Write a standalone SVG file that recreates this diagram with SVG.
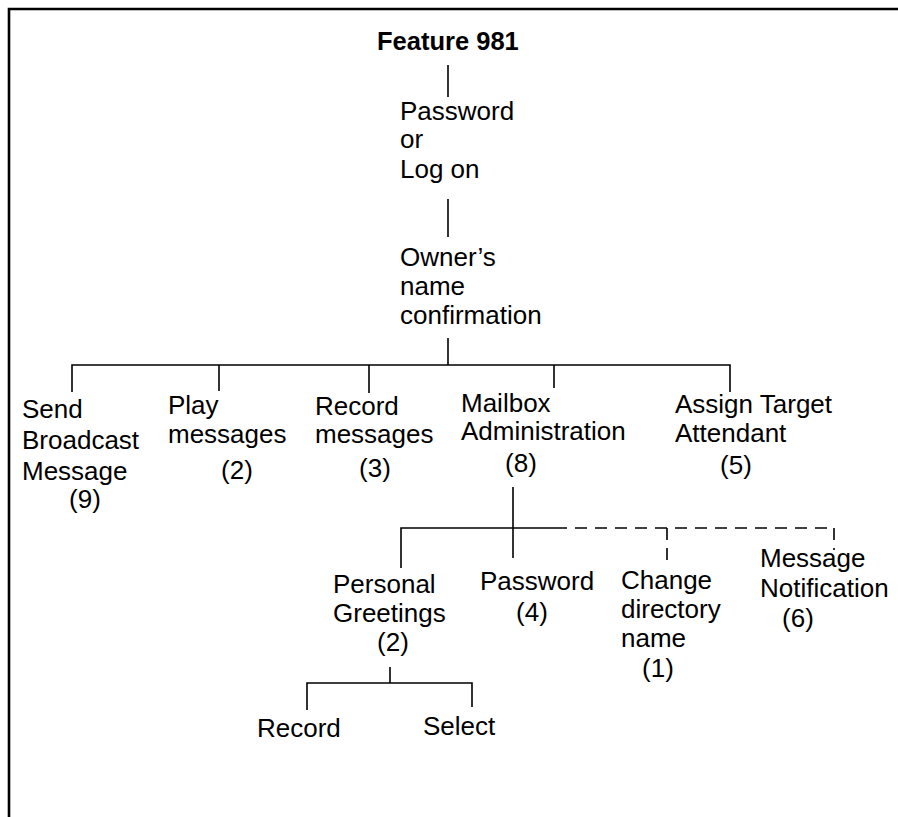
<svg xmlns="http://www.w3.org/2000/svg" width="898" height="817" viewBox="0 0 898 817">
<style>
  .t { font-family: "Liberation Sans", Arial, Helvetica, sans-serif; font-size: 26px; fill: #000; }
  .b { font-weight: bold; font-size: 25.5px; }
  .c { text-anchor: middle; }
  .ln { stroke: #000; stroke-width: 1.6; fill: none; }
  .dl { stroke: #000; stroke-width: 1.6; fill: none; stroke-dasharray: 12 8; }
  .frame { stroke: #000; stroke-width: 2.6; fill: none; }
</style>
<rect width="898" height="817" fill="#fff"/>
<g id="frame">
  <path class="frame" d="M9,817 V9 H898"/>
</g>
<g id="connectors">
  <line class="ln" x1="448" y1="65" x2="448" y2="97"/>
  <line class="ln" x1="448" y1="199" x2="448" y2="237"/>
  <line class="ln" x1="448" y1="338" x2="448" y2="365"/>
  <path class="ln" d="M72,392 V365 H730 V392"/>
  <line class="ln" x1="219" y1="365" x2="219" y2="391"/>
  <line class="ln" x1="369" y1="365" x2="369" y2="393"/>
  <line class="ln" x1="554" y1="365" x2="554" y2="388"/>
  <line class="ln" x1="513" y1="487" x2="513" y2="558"/>
  <path class="ln" d="M401,568 V528 H555"/>
  <path class="dl" d="M555,528 H834"/>
  <line class="dl" x1="667" y1="528" x2="667" y2="567"/>
  <line class="dl" x1="834" y1="528" x2="834" y2="550"/>
  <line class="ln" x1="390" y1="667" x2="390" y2="683"/>
  <path class="ln" d="M307,710 V683 H472 V707"/>
</g>
<g id="feature981"><text class="t b" x="377" y="50">Feature 981</text></g>
<g id="password-logon">
  <text class="t" x="400" y="120">Password</text>
  <text class="t" x="400" y="148">or</text>
  <text class="t" x="400" y="178">Log on</text>
</g>
<g id="owner-name">
  <text class="t" x="400" y="266">Owner’s</text>
  <text class="t" x="400" y="295">name</text>
  <text class="t" x="400" y="324">confirmation</text>
</g>
<g id="send-broadcast">
  <text class="t" x="22" y="418">Send</text>
  <text class="t" x="22" y="449">Broadcast</text>
  <text class="t" x="22" y="480">Message</text>
  <text class="t c" x="85" y="508">(9)</text>
</g>
<g id="play-messages">
  <text class="t" x="168" y="414">Play</text>
  <text class="t" x="168" y="443">messages</text>
  <text class="t c" x="237" y="479">(2)</text>
</g>
<g id="record-messages">
  <text class="t" x="315" y="415">Record</text>
  <text class="t" x="315" y="443">messages</text>
  <text class="t c" x="375" y="477">(3)</text>
</g>
<g id="mailbox-admin">
  <text class="t" x="461" y="412">Mailbox</text>
  <text class="t" x="461" y="440">Administration</text>
  <text class="t c" x="521" y="472">(8)</text>
</g>
<g id="assign-target">
  <text class="t" x="675" y="413">Assign Target</text>
  <text class="t" x="675" y="442">Attendant</text>
  <text class="t c" x="736" y="474">(5)</text>
</g>
<g id="personal-greetings">
  <text class="t" x="333" y="593">Personal</text>
  <text class="t" x="333" y="622">Greetings</text>
  <text class="t c" x="393" y="651">(2)</text>
</g>
<g id="password-4">
  <text class="t" x="480" y="590">Password</text>
  <text class="t c" x="532" y="621">(4)</text>
</g>
<g id="change-directory">
  <text class="t" x="621" y="589">Change</text>
  <text class="t" x="621" y="618">directory</text>
  <text class="t" x="621" y="647">name</text>
  <text class="t c" x="658" y="677">(1)</text>
</g>
<g id="message-notification">
  <text class="t" x="760" y="567">Message</text>
  <text class="t" x="760" y="597">Notification</text>
  <text class="t c" x="798" y="627">(6)</text>
</g>
<g id="record"><text class="t" x="257" y="737">Record</text></g>
<g id="select"><text class="t" x="423" y="735">Select</text></g>
</svg>
